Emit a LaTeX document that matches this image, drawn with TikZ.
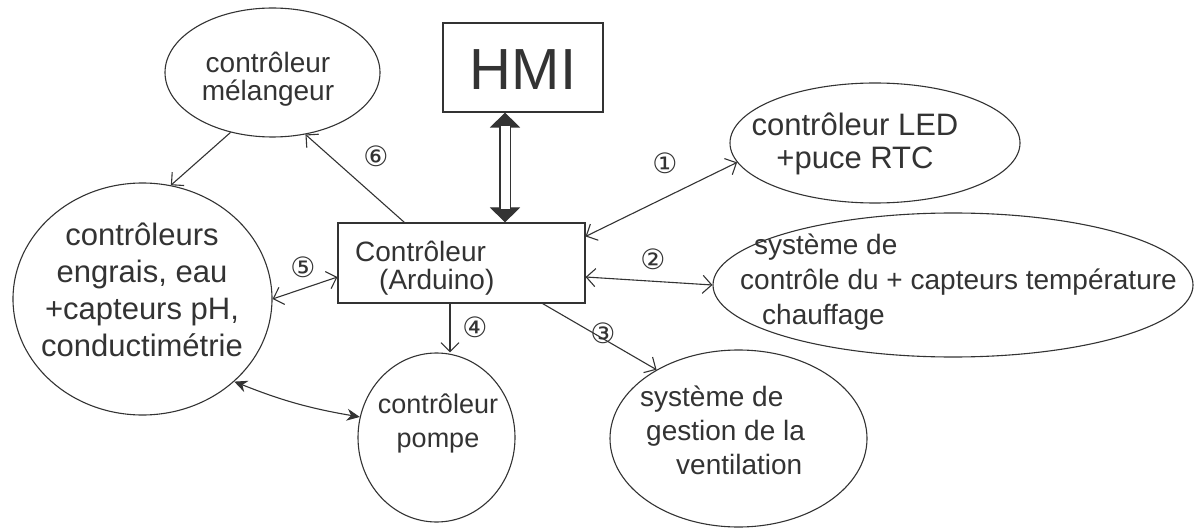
\documentclass[tikz,border=0pt]{standalone}
\usepackage{fontspec}
\setmainfont{Liberation Sans}
\newfontfamily\symfont{DejaVu Sans}
\usetikzlibrary{shapes.geometric,arrows.meta,calc}
\definecolor{ink}{HTML}{333333}
\begin{document}
\begin{tikzpicture}[x=1pt,y=-1pt,
  blob/.style={draw=ink, ellipse, inner sep=0pt, line width=1.1pt},
  boxnode/.style={draw=ink, rectangle, inner sep=0pt, line width=1.1pt},
  txt/.style={text=ink, align=center, inner sep=0pt},
  num/.style={text=ink, font=\symfont\fontsize{28}{28}\selectfont, inner sep=0pt},
  conn/.style={draw=ink, line width=1.1pt},
  >={Straight Barb[length=9pt,width=18pt]},
  fat/.tip={Triangle[length=15pt,width=30pt]}
]
\useasboundingbox[fill=white] (0,0) rectangle (1198,529);

% shapes
\node[blob, minimum width=215, minimum height=129] (mel) at (272.5,72.5) {};
\node[boxnode, minimum width=160, minimum height=89] (hmi) at (523,67.5) {};
\node[blob, minimum width=290, minimum height=120] (led) at (875,143) {};
\node[boxnode, minimum width=247, minimum height=80] (ctrl) at (461.5,263) {};
\node[blob, minimum width=259, minimum height=232] (engr) at (142.5,299) {};
\node[blob, minimum width=480, minimum height=144] (chauf) at (953,285) {};
\node[blob, minimum width=157, minimum height=169] (pompe) at (436.5,437.5) {};
\node[blob, minimum width=257, minimum height=177] (vent) at (738.5,438.5) {};

% texts
\node[txt, font=\fontsize{28}{28}\selectfont] (melt) at (268,79) {contrôleur\\mélangeur};
\node[txt, font=\fontsize{58}{58}\selectfont] (hmit) at (523,70) {HMI};
\node[txt, font=\fontsize{31}{33}\selectfont] (ledt) at (855,144) {contrôleur LED\\+puce RTC};
\node[txt, align=left, anchor=west, font=\fontsize{28}{28}\selectfont] (ctrlt) at (355,268) {Contrôleur\\\hspace{24pt}(Arduino)};
\node[txt, font=\fontsize{31}{37}\selectfont] (engrt) at (142,290) {contrôleurs\\engrais, eau\\+capteurs pH,\\conductimétrie};
\node[txt, align=left, anchor=west, font=\fontsize{28}{35}\selectfont] (chauft) at (740,282) {\hspace{14pt}système de\\contrôle du + capteurs température\\\hspace{22pt}chauffage};
\node[txt, font=\fontsize{27}{34}\selectfont] (pompet) at (438,423) {contrôleur\\pompe};
\node[txt, align=left, anchor=west, font=\fontsize{28}{34}\selectfont] (ventt) at (640,430) {système de\\\hspace{6pt}gestion de la\\\hspace{36pt}ventilation};

% column helpers
\coordinate (hx) at (505,0);
\coordinate (c4) at (450,0);

% HMI double arrow
\draw[conn, fat-fat] (hmi.south -| hx) -- (ctrl.north -| hx);
\draw[conn, double=white, double distance=9pt, shorten <=13pt, shorten >=13pt] (hmi.south -| hx) -- (ctrl.north -| hx);

% connectors
\draw[conn, <->] ($(ctrl.north east)+(0,14)$) -- (led.188);
\draw[conn, <->] ($(ctrl.east)+(0,14)$) -- (chauf.west);
\draw[conn, ->] ($(ctrl.south east)+(-43,0)$) -- (vent.140);
\draw[conn, ->] (ctrl.south -| c4) -- (pompe.north -| c4);
\draw[conn, <->] (engr.east) -- ($(ctrl.west)+(0,14)$);
\draw[conn, ->] ($(ctrl.north west)+(67,0)$) -- (mel.-62);
\draw[conn, ->] (mel.-125) -- (engr.76);
\draw[conn, {Stealth[length=13pt,width=12pt]}-{Stealth[length=13pt,width=12pt]}] (engr.-42) to[bend right=6] (pompe.165);

% circled numbers
\node[num] (n1) at (665,163) {①};
\node[num] (n2) at (653,259) {②};
\node[num] (n3) at (603,333) {③};
\node[num] (n4) at (475,327) {④};
\node[num] (n5) at (303,267) {⑤};
\node[num] (n6) at (376,156) {⑥};
\end{tikzpicture}
\end{document}
